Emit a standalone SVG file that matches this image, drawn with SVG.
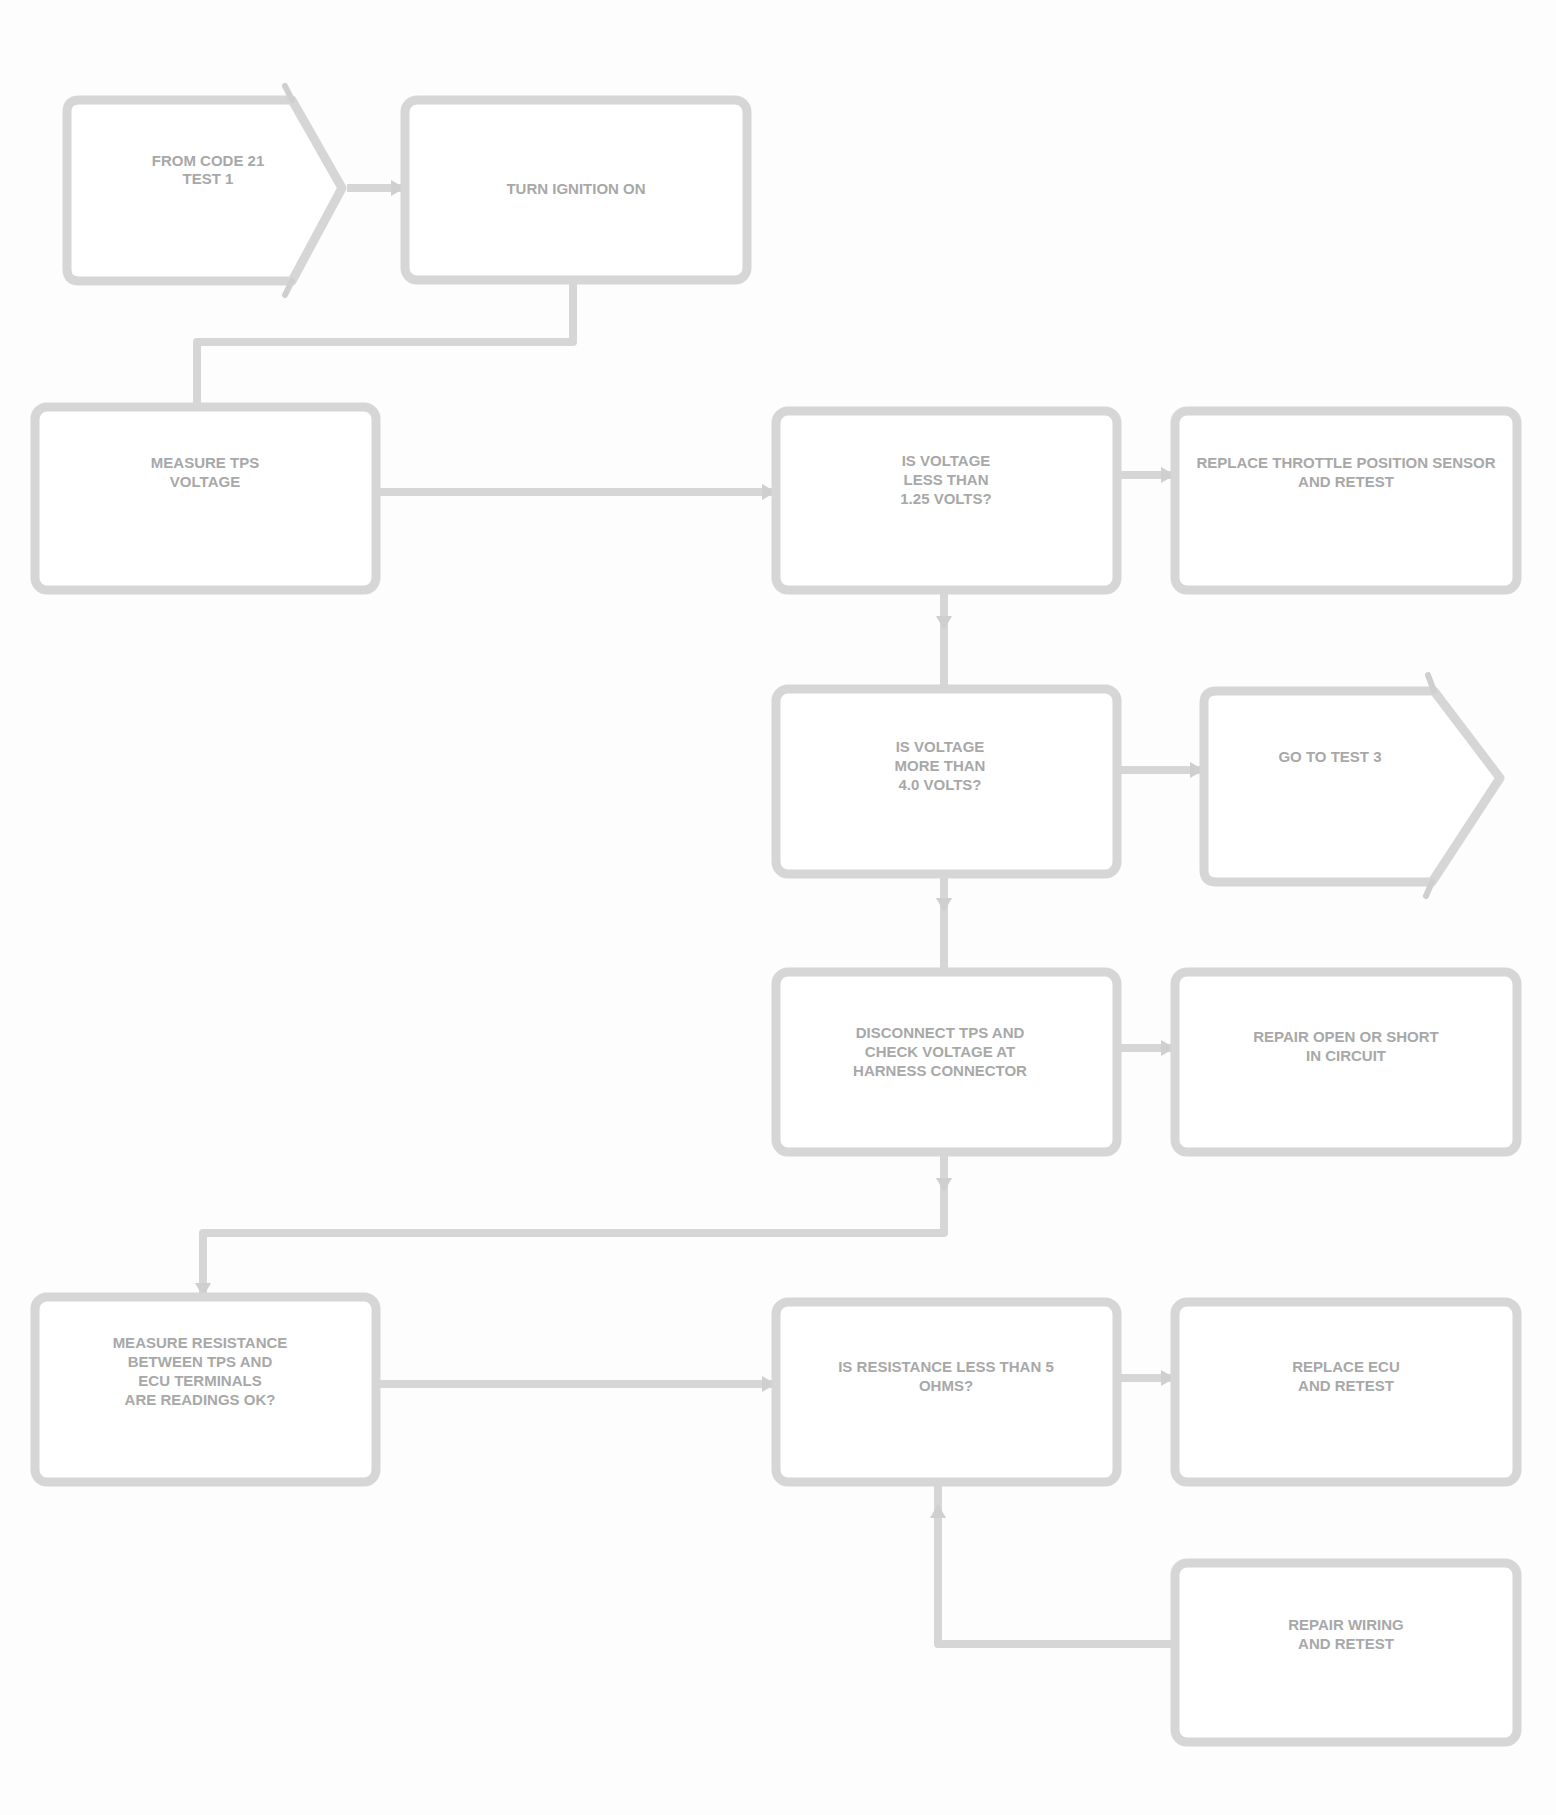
<svg xmlns="http://www.w3.org/2000/svg" width="1556" height="1815" viewBox="0 0 1556 1815">
<style>
.box{fill:#fff;stroke:#d6d6d6;stroke-width:9;stroke-linejoin:round}
.ln{fill:none;stroke:#d6d6d6;stroke-width:8;stroke-linejoin:round}
.tk{fill:none;stroke:#cfcfcf;stroke-width:6;stroke-linecap:round}
.ah{fill:#cfcfcf}
text{font-family:"Liberation Sans",Arial,sans-serif;font-weight:bold;font-size:15px;fill:#a8a8a8;text-anchor:middle}
</style>
<rect width="1556" height="1815" fill="#fdfdfd"/>
<g id="connectors">
<path class="ln" d="M347,188 H405"/>
<path class="ln" d="M573,278 V342 H197 V405"/>
<path class="ln" d="M376,492 H776"/>
<path class="ln" d="M1117,475 H1175"/>
<path class="ln" d="M944,590 V689"/>
<path class="ln" d="M1117,770 H1204"/>
<path class="ln" d="M944,874 V972"/>
<path class="ln" d="M1117,1048 H1175"/>
<path class="ln" d="M944,1152 V1233 H203 V1297"/>
<path class="ln" d="M376,1384 H776"/>
<path class="ln" d="M1117,1378 H1175"/>
<path class="ln" d="M1175,1644 H938 V1482"/>
<polygon class="ah" points="405,188 391,180 391,196"/>
<polygon class="ah" points="776,492 762,484 762,500"/>
<polygon class="ah" points="1175,475 1161,467 1161,483"/>
<polygon class="ah" points="944,630 936,616 952,616"/>
<polygon class="ah" points="1204,770 1190,762 1190,778"/>
<polygon class="ah" points="944,912 936,898 952,898"/>
<polygon class="ah" points="1175,1048 1161,1040 1161,1056"/>
<polygon class="ah" points="944,1192 936,1178 952,1178"/>
<polygon class="ah" points="203,1297 195,1283 211,1283"/>
<polygon class="ah" points="776,1384 762,1376 762,1392"/>
<polygon class="ah" points="1175,1378 1161,1370 1161,1386"/>
<polygon class="ah" points="938,1504 930,1518 946,1518"/>
</g>
<g id="n1">
<path class="box" d="M79,100 H292 L342,188 L292,281 H79 Q67,281 67,269 V112 Q67,100 79,100 Z"/>
<path class="tk" d="M292,100 L285,86 M292,281 L285,295"/>
<text x="208" y="166">FROM CODE 21</text>
<text x="208" y="184">TEST 1</text>
</g>
<g id="n2">
<rect class="box" x="405" y="100" width="342" height="180" rx="12"/>
<text x="576" y="194">TURN IGNITION ON</text>
</g>
<g id="n3">
<rect class="box" x="35" y="407" width="341" height="183" rx="12"/>
<text x="205" y="468">MEASURE TPS</text>
<text x="205" y="487">VOLTAGE</text>
</g>
<g id="n4">
<rect class="box" x="776" y="411" width="341" height="179" rx="12"/>
<text x="946" y="466">IS VOLTAGE</text>
<text x="946" y="485">LESS THAN</text>
<text x="946" y="504">1.25 VOLTS?</text>
</g>
<g id="n5">
<rect class="box" x="1175" y="411" width="342" height="179" rx="12"/>
<text x="1346" y="468">REPLACE THROTTLE POSITION SENSOR</text>
<text x="1346" y="487">AND RETEST</text>
</g>
<g id="n6">
<rect class="box" x="776" y="689" width="341" height="185" rx="12"/>
<text x="940" y="752">IS VOLTAGE</text>
<text x="940" y="771">MORE THAN</text>
<text x="940" y="790">4.0 VOLTS?</text>
</g>
<g id="n7">
<path class="box" d="M1216,691 H1434 L1500,778 L1432,882 H1216 Q1204,882 1204,870 V703 Q1204,691 1216,691 Z"/>
<path class="tk" d="M1434,691 L1428,675 M1432,882 L1426,896"/>
<text x="1330" y="762">GO TO TEST 3</text>
</g>
<g id="n8">
<rect class="box" x="776" y="972" width="341" height="180" rx="12"/>
<text x="940" y="1038">DISCONNECT TPS AND</text>
<text x="940" y="1057">CHECK VOLTAGE AT</text>
<text x="940" y="1076">HARNESS CONNECTOR</text>
</g>
<g id="n9">
<rect class="box" x="1175" y="972" width="342" height="180" rx="12"/>
<text x="1346" y="1042">REPAIR OPEN OR SHORT</text>
<text x="1346" y="1061">IN CIRCUIT</text>
</g>
<g id="n10">
<rect class="box" x="35" y="1297" width="341" height="185" rx="12"/>
<text x="200" y="1348">MEASURE RESISTANCE</text>
<text x="200" y="1367">BETWEEN TPS AND</text>
<text x="200" y="1386">ECU TERMINALS</text>
<text x="200" y="1405">ARE READINGS OK?</text>
</g>
<g id="n11">
<rect class="box" x="776" y="1302" width="341" height="180" rx="12"/>
<text x="946" y="1372">IS RESISTANCE LESS THAN 5</text>
<text x="946" y="1391">OHMS?</text>
</g>
<g id="n12">
<rect class="box" x="1175" y="1302" width="342" height="180" rx="12"/>
<text x="1346" y="1372">REPLACE ECU</text>
<text x="1346" y="1391">AND RETEST</text>
</g>
<g id="n13">
<rect class="box" x="1175" y="1563" width="342" height="179" rx="12"/>
<text x="1346" y="1630">REPAIR WIRING</text>
<text x="1346" y="1649">AND RETEST</text>
</g>
</svg>
